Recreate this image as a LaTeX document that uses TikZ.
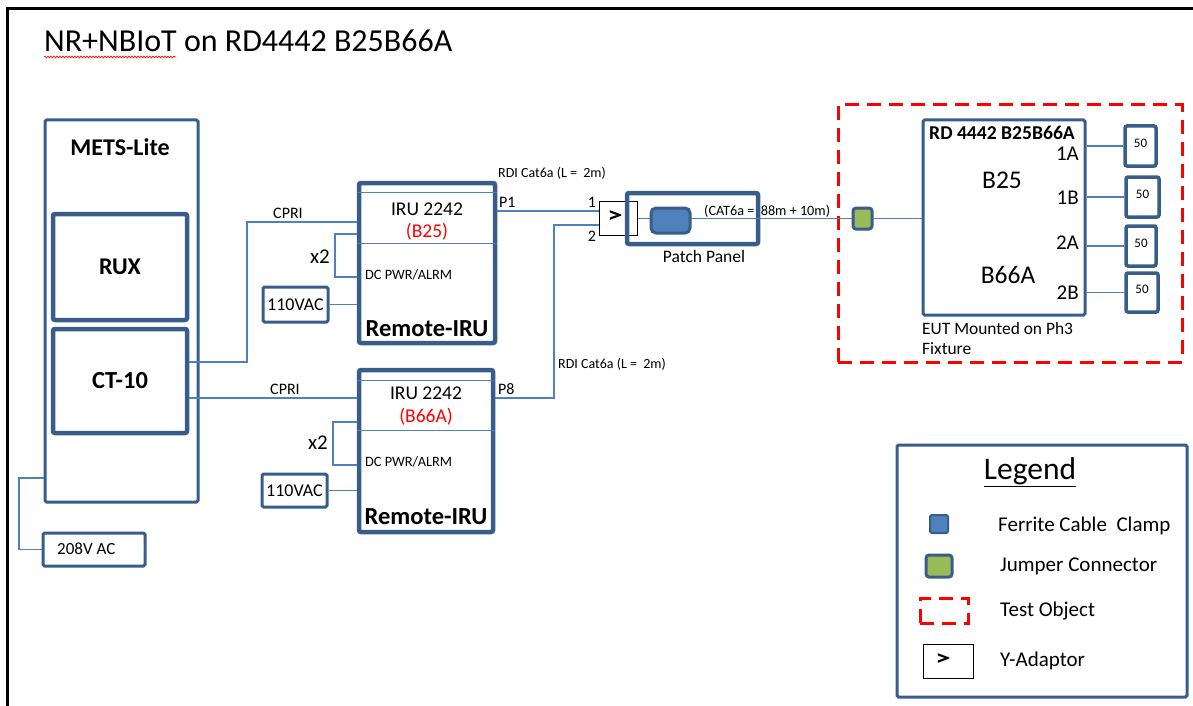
\documentclass[tikz,border=0pt]{standalone}
\usepackage{fontspec}
\setmainfont{Carlito}
\usepackage{xcolor}
\usetikzlibrary{positioning,decorations.pathmorphing}
\definecolor{boxblue}{RGB}{56,93,138}
\definecolor{cableblue}{RGB}{79,129,189}
\definecolor{jumpgreen}{RGB}{155,187,89}
\newcommand\fsz[1]{\fontsize{#1}{#1}\selectfont}
\tikzset{%
	unit/.style    = {draw=boxblue, line width=3, rounded corners=1.5},
	heavy/.style   = {draw=boxblue, line width=4.5, rounded corners=2},
	cable/.style   = {draw=cableblue, line width=1.3},
	txt/.style     = {inner sep=0},
	load/.style    = {draw=boxblue, line width=3.5, rounded corners=2, minimum width=31, minimum height=40, font=\fsz{13}},
	ferrite/.style = {draw=boxblue, fill=cableblue, line width=3, rounded corners=5},
	jumper/.style  = {draw=boxblue, fill=jumpgreen, line width=3, rounded corners=3},
	testobj/.style = {draw=red, line width=3, dash pattern=on 14 off 8},
	yadapt/.style  = {draw=black, line width=1},
	chevron/.style = {inner sep=0, font={\fsz{22}\bfseries}},
}

\begin{document}
\begin{tikzpicture}[x=1pt,y=-1pt]
	\useasboundingbox (0,0) rectangle (1193,706);
	\draw[line width=3] (7,706) -- (7,9) -- (1193,9);
	\node[txt, anchor=base west, font=\fsz{32}] (title) at (44,52) {NR+NBIoT on RD4442 B25B66A};
	\draw[red, line width=0.6, decorate, decoration={snake, amplitude=1, segment length=3}] (44,57) -- (176,57);
	
	% METS-Lite
	\node[unit, minimum width=153, minimum height=382] (mets) at (121.5,311) {};
	\node[txt, font={\fsz{24}\bfseries}] (metsname) at (120,147) {METS-Lite};
	\node[heavy, minimum width=134, minimum height=106, font={\fsz{24}\bfseries}] (rux) at (120,267) {RUX};
	\node[heavy, minimum width=134, minimum height=104, font={\fsz{24.5}\bfseries}] (ct) at (120,381) {CT-10};
	\node[unit, minimum width=102, minimum height=33] (ac208) at (94,549.5) {};
	\node[txt, anchor=west, font=\fsz{17}] (ac208txt) at (57,549) {208V AC};
	
	% upper remote unit
	\node[heavy, minimum width=136, minimum height=160] (iruA) at (427,263) {};
	\node[txt, font=\fsz{19.5}] (iruAname) at (427,209) {IRU 2242};
	\node[txt, font=\fsz{19.5}, text=red] (iruAband) at (427,232) {(B25)};
	\node[txt, anchor=west, font=\fsz{14.3}] (iruAdc) at (365,275) {DC PWR/ALRM};
	\node[txt, font={\fsz{24.5}\bfseries}] (iruAtype) at (427,329) {Remote-IRU};
	\node[txt, font=\fsz{21}] (x2A) at (320,257) {x2};
	\node[unit, minimum width=65, minimum height=35, font=\fsz{18}] (acA) at (295.5,304.5) {110VAC};
	\draw[cable] ([yshift=-12]iruA.north west) -- ([yshift=-12]iruA.north east);
	\draw[cable] ([yshift=-63]iruA.north west) -- ([yshift=-63]iruA.north east);
	
	% lower remote unit
	\node[heavy, minimum width=134, minimum height=162] (iruB) at (426,451) {};
	\node[txt, font=\fsz{19.5}] (iruBname) at (426,393) {IRU 2242};
	\node[txt, font=\fsz{19.5}, text=red] (iruBband) at (426,417) {(B66A)};
	\node[txt, anchor=west, font=\fsz{14.3}] (iruBdc) at (365,462) {DC PWR/ALRM};
	\node[txt, font={\fsz{24.5}\bfseries}] (iruBtype) at (426,517) {Remote-IRU};
	\node[txt, font=\fsz{21}] (x2B) at (318,443) {x2};
	\node[unit, minimum width=65, minimum height=33, font=\fsz{18}] (acB) at (294.5,490.5) {110VAC};
	\draw[cable] ([yshift=-13]iruB.north west) -- ([yshift=-13]iruB.north east);
	\draw[cable] ([yshift=-63]iruB.north west) -- ([yshift=-63]iruB.north east);
	
	% Y-adaptor and patch panel
	\node[yadapt, minimum width=38, minimum height=34] (yad) at (618,218.5) {};
	\node[chevron] (yadsym) at (615,217) {\scalebox{1.4}[1]{>}};
	\node[heavy, minimum width=131, minimum height=51] (panel) at (692.5,218.5) {};
	\node[txt, font=\fsz{17.5}] (panelname) at (704,256) {Patch Panel};
	\node[txt, font=\fsz{16}] (in1) at (592,202) {1};
	\node[txt, font=\fsz{16}] (in2) at (592,236) {2};
	
	% EUT
	\node[testobj, minimum width=344, minimum height=257] (eut) at (1010,233.5) {};
	\node[jumper, minimum width=19, minimum height=21] (jump) at (862.5,218.5) {};
	\node[unit, minimum width=162, minimum height=195] (rd) at (1004,217.5) {};
	\node[txt, font={\fsz{19.6}\bfseries}] (rdname) at (1002,133) {RD 4442 B25B66A};
	\node[txt, font=\fsz{25.5}] (bandA) at (1002,180) {B25};
	\node[txt, font=\fsz{25.5}] (bandB) at (1008,275) {B66A};
	\node[txt, anchor=east, font=\fsz{21}] (p1A) at (1079,154) {1A};
	\node[txt, anchor=east, font=\fsz{21}] (p1B) at (1079,198) {1B};
	\node[txt, anchor=east, font=\fsz{21}] (p2A) at (1079,243) {2A};
	\node[txt, anchor=east, font=\fsz{21}] (p2B) at (1079,293) {2B};
	\node[load] (l1) at (1140.5,146) {\raisebox{6pt}{50}};
	\node[load, minimum width=33] (l2) at (1142.5,197) {\raisebox{6pt}{50}};
	\node[load, minimum width=30] (l3) at (1141,246) {\raisebox{6pt}{50}};
	\node[load, minimum width=32, minimum height=39] (l4) at (1142,292.5) {\raisebox{6pt}{50}};
	\node[txt, anchor=north west, align=left, font=\fontsize{17.4}{20}\selectfont] (eutnote) at (922,322) {EUT Mounted on Ph3\\Fixture};
	
	% cables
	\coordinate (cpriAtop) at (247,222);
	\coordinate (cpriAbot) at (247,362);
	\coordinate (cpriB) at (300,398);
	\draw[cable] (ct.east |- cpriAbot) -- (cpriAbot) -- (cpriAtop) -- (iruA.west |- cpriAtop);
	\draw[cable] (ct.east |- cpriB) -- (iruB.west |- cpriB);
	\node[txt, font=\fsz{16}] (cpriAlbl) at (288,213) {CPRI};
	\node[txt, font=\fsz{16}] (cpriBlbl) at (285,389) {CPRI};
	
	\coordinate (dcAtop) at (335,234);
	\coordinate (dcAbot) at (335,277);
	\draw[cable] (iruA.west |- dcAtop) -- (dcAtop) -- (dcAbot) -- (iruA.west |- dcAbot);
	\coordinate (dcBtop) at (333,422);
	\coordinate (dcBbot) at (333,465);
	\draw[cable] (iruB.west |- dcBtop) -- (dcBtop) -- (dcBbot) -- (iruB.west |- dcBbot);
	\draw[cable] (acA.east) -- (iruA.west |- acA.east);
	\draw[cable] (acB.east) -- (iruB.west |- acB.east);
	
	\coordinate (yin1) at (599,211);
	\coordinate (p8bend) at (554,398);
	\coordinate (yin2) at (554,225);
	\draw[cable] (iruA.east |- yin1) -- (yad.west |- yin1);
	\draw[cable] (iruB.east |- p8bend) -- (p8bend) -- (yin2) -- (yad.west |- yin2);
	\node[txt, anchor=west, font=\fsz{16}] (p1lbl) at (499,202) {P1};
	\node[txt, anchor=west, font=\fsz{16}] (p8lbl) at (498,389) {P8};
	\node[txt, anchor=west, font=\fsz{14}] (rdiA) at (498,173) {RDI Cat6a (L =~ 2m)};
	\node[txt, anchor=west, font=\fsz{14}] (rdiB) at (558,364) {RDI Cat6a (L =~ 2m)};
	
	\draw[cable] (yad.east) -- (jump.west);
	\node[ferrite, minimum width=39, minimum height=25] (ferr) at (670.5,220.5) {};
	\node[txt, anchor=west, font=\fsz{14.2}] (catlbl) at (704,211) {(CAT6a =~ 88m + 10m)};
	\draw[cable] (jump.east) -- (rd.west |- jump.east);
	
	\draw[cable] (rd.east |- l1.west) -- (l1.west);
	\draw[cable] (rd.east |- l2.west) -- (l2.west);
	\draw[cable] (rd.east |- l3.west) -- (l3.west);
	\draw[cable] (rd.east |- l4.west) -- (l4.west);
	
	\coordinate (mains) at (19,478);
	\draw[cable] (mets.west |- mains) -- (mains) |- (ac208.west);
	
	% legend
	\node[unit, minimum width=290, minimum height=252] (legend) at (1042,571) {};
	\node[txt, font=\fsz{31.5}] (legendname) at (1030,472) {\underline{Legend}};
	\node[ferrite, line width=2, rounded corners=2, minimum width=18, minimum height=18] (lgferr) at (939,524) {};
	\node[txt, anchor=west, font=\fsz{21}] (lgferrtxt) at (998,526) {Ferrite Cable~ Clamp};
	\node[jumper, minimum width=26, minimum height=22] (lgjump) at (939,566) {};
	\node[txt, anchor=west, font=\fsz{21}] (lgjumptxt) at (1000,566) {Jumper Connector};
	\node[testobj, minimum width=48, minimum height=25] (lgeut) at (944,610.5) {};
	\node[txt, anchor=west, font=\fsz{21}] (lgeuttxt) at (1000,611) {Test Object};
	\node[yadapt, minimum width=50, minimum height=34] (lgyad) at (948,661) {};
	\node[chevron] (lgyadsym) at (943,660) {\scalebox{1.4}[1]{>}};
	\node[txt, anchor=west, font=\fsz{21}] (lgyadtxt) at (1000,661) {Y-Adaptor};
\end{tikzpicture}
\end{document}
